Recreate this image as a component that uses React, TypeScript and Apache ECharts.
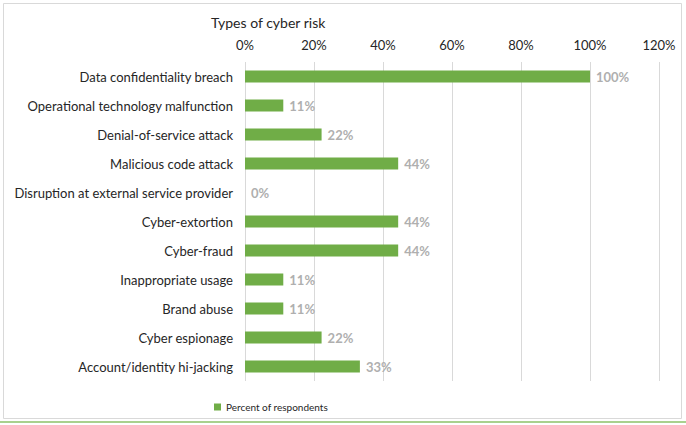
import React, { useEffect, useRef } from "react";
import * as echarts from "echarts";

const categories = [
  "Data confidentiality breach",
  "Operational technology malfunction",
  "Denial-of-service attack",
  "Malicious code attack",
  "Disruption at external service provider",
  "Cyber-extortion",
  "Cyber-fraud",
  "Inappropriate usage",
  "Brand abuse",
  "Cyber espionage",
  "Account/identity hi-jacking",
];
const percentOfRespondents = [1.0, 0.111, 0.222, 0.444, 0, 0.444, 0.444, 0.111, 0.111, 0.222, 0.333];
const seriesName = "Percent of respondents";
const chartTitle = "Types of cyber risk";

const FONT = "Lato";

export default function App() {
  const ref = useRef<HTMLDivElement>(null);
  useEffect(() => {
    if (!ref.current) return;
    const chart = echarts.init(ref.current, null, { renderer: "svg" });
    chart.setOption({
      animation: false,
      backgroundColor: "#ffffff",
      textStyle: { fontFamily: FONT },
      title: {
        text: chartTitle,
        left: 206,
        top: 10,
        textStyle: { fontFamily: FONT, fontSize: 14, fontWeight: "normal", color: "#262626" },
      },
      legend: {
        data: [seriesName],
        left: 209,
        top: 397,
        itemWidth: 7,
        itemHeight: 7,
        itemGap: 3,
        icon: "rect",
        textStyle: { fontFamily: FONT, fontSize: 10, color: "#262626" },
      },
      grid: { left: 245, right: 27, top: 62, height: 319, containLabel: false },
      xAxis: {
        type: "value",
        position: "top",
        min: 0,
        max: 1.2,
        interval: 0.2,
        axisLine: { show: false },
        axisTick: { show: false },
        axisLabel: {
          fontFamily: FONT,
          fontSize: 13,
          color: "#262626",
          margin: 11,
          formatter: (v: number) => Math.round(v * 100) + "%",
        },
        splitLine: { show: true, lineStyle: { color: "#D9D9D9", width: 1 } },
      },
      yAxis: {
        type: "category",
        data: categories,
        inverse: true,
        axisLine: { show: false },
        axisTick: { show: false },
        axisLabel: { fontFamily: FONT, fontSize: 13, color: "#262626", margin: 12 },
      },
      series: [
        {
          name: seriesName,
          type: "bar",
          data: percentOfRespondents,
          barWidth: 12,
          itemStyle: { color: "#70AD47" },
          label: {
            show: true,
            position: "right",
            distance: 6,
            fontFamily: FONT,
            fontSize: 13,
            fontWeight: "bold",
            color: "#AFAFAF",
            formatter: (p: any) => Math.round(p.value * 100) + "%",
          },
        },
      ],
      graphic: [
        {
          type: "rect",
          shape: { x: 3.5, y: 3.5, width: 678, height: 415 },
          style: { fill: "none", stroke: "#D9D9D9", lineWidth: 1 },
          silent: true,
        },
        {
          type: "line",
          shape: { x1: 0, y1: 422, x2: 686, y2: 422 },
          style: { stroke: "#A9D18E", lineWidth: 2 },
          silent: true,
        },
      ],
    });
    return () => chart.dispose();
  }, []);
  return (
    <div style={{ position: "absolute", left: 0, top: 0, width: 686, height: 425 }}>
      <div ref={ref} style={{ width: 686, height: 425 }} />
    </div>
  );
}
